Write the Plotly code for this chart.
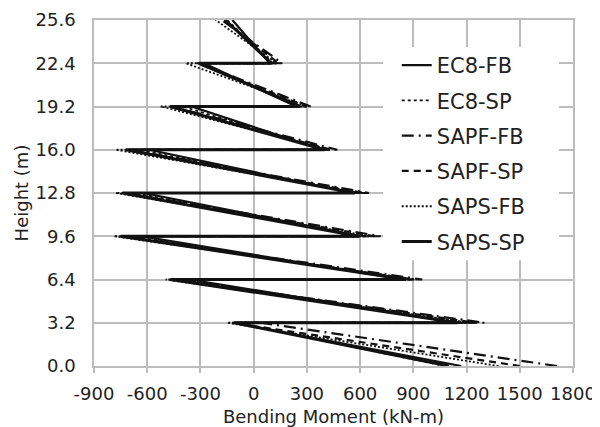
import plotly.graph_objects as go

# Floor heights (m)
floor_heights = [0.0, 3.2, 6.4, 9.6, 12.8, 16.0, 19.2, 22.4, 25.6]

# Bending moment at the base of each storey column (kN-m), storeys 1..8
ec8_fb_base = [1170, 1140, 840, 600, 560, 390, 240, 90]
ec8_sp_base = [1080, 1200, 880, 620, 580, 400, 270, 110]
sapf_fb_base = [1710, 1300, 950, 716, 650, 471, 321, 161]
sapf_sp_base = [1500, 1250, 900, 680, 620, 440, 300, 140]
saps_fb_base = [1380, 1220, 920, 660, 600, 430, 300, 130]
saps_sp_base = [1100, 1150, 860, 593, 570, 400, 260, 100]

# Bending moment at the top of each storey column (kN-m), storeys 1..8
ec8_fb_top = [-110, -360, -630, -620, -590, -350, -280, -120]
ec8_sp_top = [-100, -410, -690, -670, -650, -400, -300, -150]
sapf_fb_top = [40, -450, -730, -720, -700, -460, -310, -180]
sapf_sp_top = [-120, -440, -740, -720, -710, -470, -320, -170]
saps_fb_top = [-150, -496, -788, -778, -778, -524, -383, -214]
saps_sp_top = [-110, -470, -750, -740, -720, -470, -308, -160]

series_names = ["EC8-FB", "EC8-SP", "SAPF-FB", "SAPF-SP", "SAPS-FB", "SAPS-SP"]
series_base = [ec8_fb_base, ec8_sp_base, sapf_fb_base, sapf_sp_base, saps_fb_base, saps_sp_base]
series_top = [ec8_fb_top, ec8_sp_top, sapf_fb_top, sapf_sp_top, saps_fb_top, saps_sp_top]

x_tick_vals = [-900, -600, -300, 0, 300, 600, 900, 1200, 1500, 1800]
x_tick_text = ["-900", "-600", "-300", "0", "300", "600", "900", "1200", "1500", "1800"]
y_tick_vals = [0.0, 3.2, 6.4, 9.6, 12.8, 16.0, 19.2, 22.4, 25.6]
y_tick_text = ["0.0", "3.2", "6.4", "9.6", "12.8", "16.0", "19.2", "22.4", "25.6"]

styles = [
    dict(width=2.2, dash="solid"),
    dict(width=1.8, dash="3px,3px"),
    dict(width=2.2, dash="12px,5px,2px,5px"),
    dict(width=2.2, dash="7px,5px"),
    dict(width=1.8, dash="2px,2px"),
    dict(width=3, dash="solid"),
]

fig = go.Figure()

for name, base, top, st in zip(series_names, series_base, series_top, styles):
    xs, ys = [], []
    for i in range(len(base)):
        xs += [base[i], top[i]]
        ys += [floor_heights[i], floor_heights[i + 1]]
    fig.add_trace(go.Scatter(
        x=xs, y=ys, mode="lines", name=name, legendgroup=name,
        line=dict(color="#111111", width=st["width"], dash=st["dash"]),
    ))

fig.add_shape(type="rect", xref="x", yref="y", x0=729, x1=1721, y0=7.83, y1=23.6,
              fillcolor="white", line=dict(width=0), layer="between")

font_family = "DejaVu Sans, Verdana, sans-serif"
grid_col = "#bdbdbd"

fig.update_layout(
    width=592, height=419,
    margin=dict(l=86, r=27, t=12, b=61),
    paper_bgcolor="white", plot_bgcolor="white",
    font=dict(family=font_family, size=18, color="#222222"),
    showlegend=True,
    legend=dict(x=0.632, y=0.928, xanchor="left", yanchor="top",
                bgcolor="rgba(0,0,0,0)", font=dict(size=21, color="#222222"),
                itemwidth=30, traceorder="grouped", tracegroupgap=5),
    xaxis=dict(range=[-900, 1800], tickvals=x_tick_vals, ticktext=x_tick_text,
               automargin=False,
               showgrid=True, gridcolor=grid_col, gridwidth=1.5,
               showline=True, linecolor=grid_col, linewidth=1.5, mirror=True,
               zeroline=False, ticks="outside", ticklen=5, tickcolor=grid_col,
               tickwidth=1.5, ticklabelstandoff=6,
               title=dict(text="Bending Moment (kN-m)", standoff=10,
                          font=dict(size=18))),
    yaxis=dict(range=[0, 25.6], tickvals=y_tick_vals, ticktext=y_tick_text,
               automargin=False,
               showgrid=True, gridcolor=grid_col, gridwidth=1.5,
               showline=True, linecolor=grid_col, linewidth=1.5, mirror=True,
               zeroline=False, ticks="", ticklabelstandoff=13,
               title=dict(text="Height (m)", standoff=2, font=dict(size=18))),
)

fig.write_html("out.html")
